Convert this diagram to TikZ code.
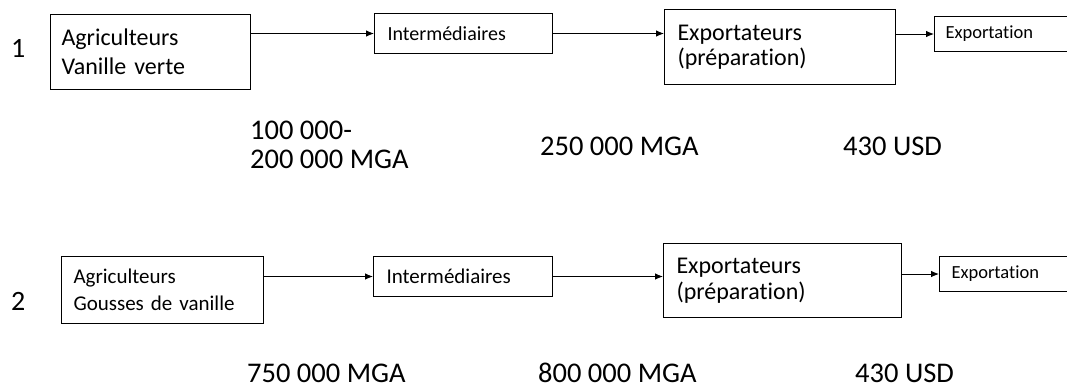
\documentclass[tikz,border=0pt]{standalone}
\usepackage{fontspec}
\setmainfont[Ligatures=NoCommon]{Carlito}
\usetikzlibrary{arrows.meta}
\begin{document}
\begin{tikzpicture}[x=1pt,y=-1pt,
  box/.style={draw, line width=1pt, inner ysep=0pt, align=left, anchor=north west},
  arr/.style={line width=0.9pt, -{Latex[length=8pt,width=6.5pt]}},
  price/.style={anchor=base west, inner sep=0pt, font=\fontsize{28.5}{30}\selectfont},
  rownum/.style={anchor=base west, inner sep=0pt, font=\fontsize{28}{30}\selectfont}]
\useasboundingbox (0,0) rectangle (1067,389);
\clip (0,0) rectangle (1067,389);

% chain 1
\node[rownum] (n1) at (11,57) {1};
\node[box, inner xsep=11pt, text width=178pt, minimum height=75pt,
      font=\fontsize{24}{29}\selectfont] (a1) at (50,14) {Agriculteurs\\Vanille verte};
\node[box, inner xsep=13pt, text width=152pt, minimum height=40pt,
      font=\fontsize{20}{23}\selectfont] (i1) at (374,13) {Intermédiaires};
\node[box, inner xsep=13pt, text width=205pt, minimum height=75pt,
      font=\fontsize{24}{25}\selectfont] (e1) at (664,9) {Exportateurs\\(préparation)};
\node[box, inner xsep=11pt, text width=112pt, minimum height=35pt,
      font=\fontsize{18.5}{22}\selectfont] (x1) at (934,16) {Exportation};

\draw[arr] (a1.east |- i1.west) -- (i1.west);
\draw[arr] (i1.east) -- (i1.east -| e1.west);
\draw[arr] (e1.east |- x1.west) -- (x1.west);

\node[price] (p11) at (250,139) {100 000-};
\node[price] (p12) at (250,168) {200 000 MGA};
\node[price] (p13) at (540,155) {250 000 MGA};
\node[price] (p14) at (843,155) {430 USD};

% chain 2
\node[rownum] (n2) at (11,310) {2};
\node[box, inner xsep=12pt, text width=178pt, minimum height=67pt,
      font=\fontsize{21}{27}\selectfont] (a2) at (61,256) {Agriculteurs\\Gousses de vanille};
\node[box, inner xsep=13pt, text width=153pt, minimum height=40pt,
      font=\fontsize{21}{24}\selectfont] (i2) at (373,256) {Intermédiaires};
\node[box, inner xsep=13pt, text width=212pt, minimum height=74pt,
      font=\fontsize{24}{26}\selectfont] (e2) at (663,243) {Exportateurs\\(préparation)};
\node[box, inner xsep=12pt, text width=105pt, minimum height=35pt,
      font=\fontsize{18.5}{22}\selectfont] (x2) at (939,256) {Exportation};

\draw[arr] (a2.east |- i2.west) -- (i2.west);
\draw[arr] (i2.east) -- (i2.east -| e2.west);
\draw[arr] (e2.east |- x2.west) -- (x2.west);

\node[price] (p21) at (247,382) {750 000 MGA};
\node[price] (p22) at (538,382) {800 000 MGA};
\node[price] (p23) at (855,382) {430 USD};
\end{tikzpicture}
\end{document}
